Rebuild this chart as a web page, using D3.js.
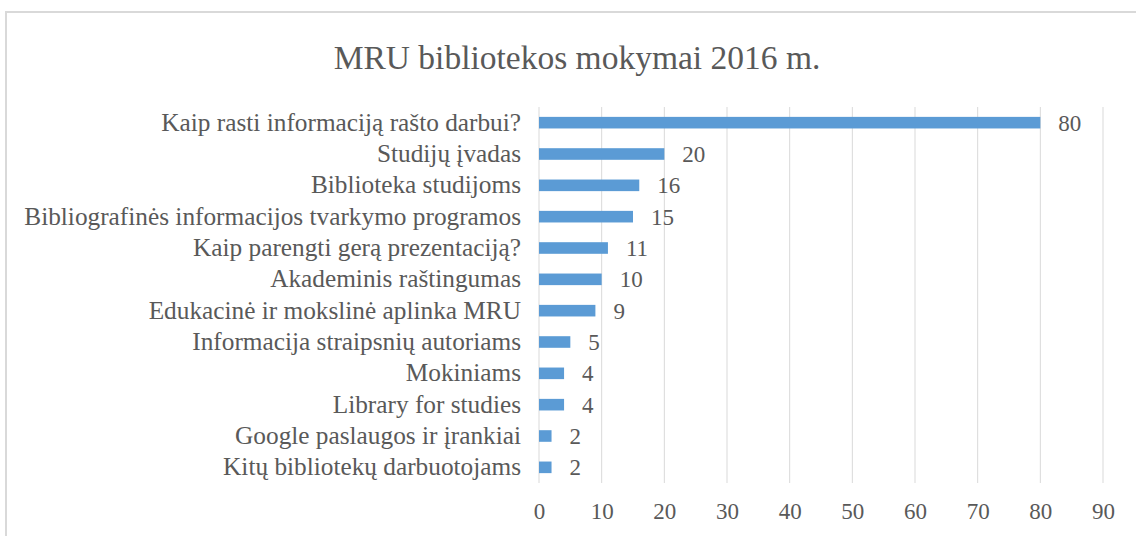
<!DOCTYPE html>
<html>
<head>
<meta charset="utf-8">
<script src="https://cdn.jsdelivr.net/npm/d3@7"></script>
<style>
  body { margin: 0; background: #fff; }
  svg text { font-family: "Liberation Serif", serif; fill: #595959; }
</style>
</head>
<body>
<script>
var categories = [
    "Kaip rasti informaciją rašto darbui?",
    "Studijų įvadas",
    "Biblioteka studijoms",
    "Bibliografinės informacijos tvarkymo programos",
    "Kaip parengti gerą prezentaciją?",
    "Akademinis raštingumas",
    "Edukacinė ir mokslinė aplinka MRU",
    "Informacija straipsnių autoriams",
    "Mokiniams",
    "Library for studies",
    "Google paslaugos ir įrankiai",
    "Kitų bibliotekų darbuotojams"
];
var values = [80, 20, 16, 15, 11, 10, 9, 5, 4, 4, 2, 2];
var xTicks = [0, 10, 20, 30, 40, 50, 60, 70, 80, 90];
var title = "MRU bibliotekos mokymai 2016 m.";

var W = 1136, H = 536;
var margin = {top: 107, right: 33, bottom: 53, left: 539};
var width = W - margin.left - margin.right,
    height = H - margin.top - margin.bottom;

var svg = d3.select("body").append("svg")
    .attr("width", W)
    .attr("height", H);

// chart frame (only top and left edges visible in the crop)
svg.append("rect")
    .attr("x", 6).attr("y", 12)
    .attr("width", W + 20).attr("height", H + 20)
    .attr("fill", "none")
    .attr("stroke", "#d9d9d9")
    .attr("stroke-width", 2);

svg.append("text")
    .attr("x", 577).attr("y", 69)
    .attr("text-anchor", "middle")
    .style("font-size", "33.5px")
    .text(title);

var g = svg.append("g")
    .attr("transform", "translate(" + margin.left + "," + margin.top + ")");

var xScale = d3.scaleLinear().domain([0, 90]).range([0, width]);
var yScale = d3.scaleBand().domain(categories).range([0, height]).paddingInner(0.63).paddingOuter(0.315);

// gridlines
g.selectAll("line.grid")
    .data(xTicks)
    .enter()
    .append("line")
    .attr("class", "grid")
    .attr("x1", function(d){ return xScale(d); })
    .attr("x2", function(d){ return xScale(d); })
    .attr("y1", 0).attr("y2", height)
    .attr("stroke", "#d9d9d9")
    .attr("stroke-width", 1);

g.selectAll("rect.bar")
    .data(values)
    .enter()
    .append("rect")
    .attr("class", "bar")
    .attr("x", xScale(0))
    .attr("y", function(d, i){ return yScale(categories[i]); })
    .attr("width", function(d){ return xScale(d) - xScale(0); })
    .attr("height", yScale.bandwidth())
    .attr("fill", "#5b9bd5");

// value labels
g.selectAll("text.val")
    .data(values)
    .enter()
    .append("text")
    .attr("class", "val")
    .attr("x", function(d){ return xScale(d) + 18; })
    .attr("y", function(d, i){ return yScale(categories[i]) + yScale.bandwidth() / 2; })
    .attr("dy", "0.35em")
    .style("font-size", "23px")
    .text(function(d){ return d; });

// category axis
var yAxis = d3.axisLeft(yScale).tickSize(0).tickPadding(18);
g.append("g")
    .call(yAxis)
    .call(function(a){ a.select(".domain").remove(); })
    .selectAll("text")
    .style("font-size", "25.3px");

// value axis
var xAxis = d3.axisBottom(xScale).tickValues(xTicks).tickSize(0).tickPadding(20);
g.append("g")
    .attr("transform", "translate(0," + height + ")")
    .call(xAxis)
    .call(function(a){ a.select(".domain").remove(); })
    .selectAll("text")
    .style("font-size", "23px");
</script>
</body>
</html>
